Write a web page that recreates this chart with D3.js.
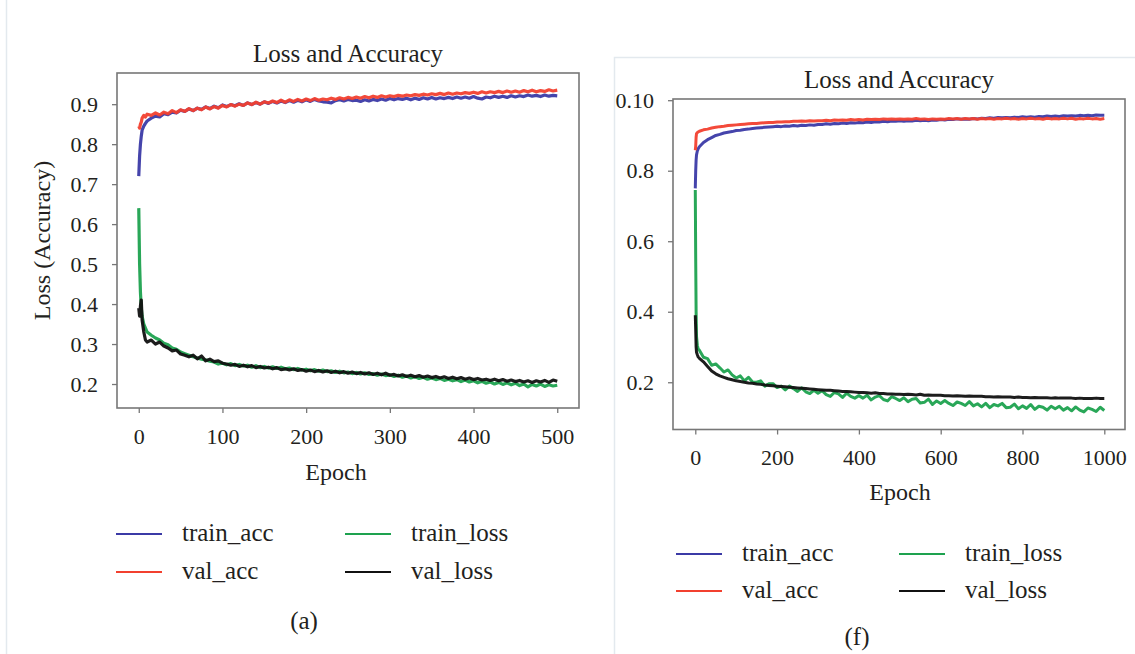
<!DOCTYPE html>
<html><head><meta charset="utf-8">
<script src="https://cdn.jsdelivr.net/npm/d3@7"></script>
<style>
body{margin:0;background:#fff}
svg{display:block}
text{font-family:"Liberation Serif","DejaVu Serif",serif;fill:#231f20}
</style>
</head><body>
<svg id="c" width="1135" height="654"></svg>
<script>
// ---------- DATA ----------
const seriesNames = ["train_acc","val_acc","train_loss","val_loss"];
const seriesColors = ["#3b3aa6","#f2402f","#1ea24f","#111111"];
const chartTitle = "Loss and Accuracy";

// Panel (a)
const epochsA = [0,1,2,3,4,6,8,
 10,15,20,25,30,35,40,45,50,55,60,65,70,75,80,85,90,95,100,105,110,115,120,125,130,135,140,145,150,155,
 160,165,170,175,180,185,190,195,200,205,210,215,220,225,230,235,240,245,250,255,260,265,270,275,280,285,
 290,295,300,305,310,315,320,325,330,335,340,345,350,355,360,365,370,375,380,385,390,395,400,405,410,415,
 420,425,430,435,440,445,450,455,460,465,470,475,480,485,490,495,500];
const trainAccA = [0.72,0.77,0.80,0.82,0.835,0.845,0.852,
 0.858,0.865,0.87,0.868,0.876,0.874,0.88,0.878,0.885,0.882,
 0.888,0.884,0.89,0.887,0.893,0.889,0.895,0.891,0.898,0.894,
 0.899,0.896,0.901,0.897,0.903,0.899,0.904,0.9,0.906,0.902,
 0.907,0.903,0.908,0.904,0.909,0.905,0.91,0.906,0.911,0.907,
 0.912,0.908,0.906,0.905,0.903,0.909,0.911,0.908,0.912,0.909,
 0.91,0.907,0.911,0.908,0.912,0.909,0.913,0.91,0.914,0.911,
 0.914,0.912,0.915,0.911,0.915,0.912,0.916,0.913,0.917,0.913,
 0.916,0.914,0.917,0.914,0.918,0.915,0.918,0.915,0.919,0.915,
 0.913,0.918,0.916,0.92,0.917,0.92,0.917,0.921,0.918,0.921,
 0.919,0.923,0.92,0.922,0.919,0.923,0.92,0.922,0.921];
const valAccA = [0.845,0.84,0.85,0.855,0.865,0.872,0.868,
 0.875,0.872,0.878,0.873,0.88,0.876,0.884,0.879,0.886,0.882,
 0.889,0.884,0.89,0.886,0.893,0.888,0.894,0.89,0.897,0.893,
 0.899,0.895,0.9,0.897,0.903,0.899,0.905,0.9,0.906,0.903,
 0.908,0.904,0.91,0.905,0.911,0.907,0.912,0.908,0.913,0.909,
 0.914,0.91,0.913,0.911,0.915,0.912,0.916,0.913,0.917,0.914,
 0.918,0.915,0.919,0.916,0.92,0.917,0.921,0.918,0.921,0.919,
 0.922,0.92,0.923,0.921,0.924,0.922,0.925,0.923,0.926,0.924,
 0.927,0.924,0.928,0.925,0.928,0.926,0.929,0.927,0.93,0.927,
 0.931,0.928,0.931,0.929,0.932,0.929,0.933,0.93,0.933,0.93,
 0.934,0.931,0.935,0.931,0.934,0.932,0.936,0.933,0.935];
const trainLossA = [0.64,0.5,0.43,0.39,0.37,0.35,0.34,
 0.33,0.322,0.315,0.31,0.302,0.298,0.29,0.287,0.28,0.276,
 0.272,0.268,0.265,0.262,0.26,0.257,0.255,0.25,0.252,0.248,
 0.251,0.246,0.249,0.245,0.247,0.242,0.246,0.241,0.244,0.24,
 0.243,0.239,0.242,0.238,0.24,0.236,0.239,0.235,0.237,0.233,
 0.236,0.232,0.235,0.231,0.233,0.229,0.232,0.228,0.23,0.226,
 0.229,0.225,0.228,0.224,0.226,0.222,0.225,0.221,0.223,0.219,
 0.222,0.217,0.22,0.215,0.218,0.214,0.217,0.212,0.215,0.211,
 0.214,0.209,0.212,0.208,0.211,0.206,0.21,0.205,0.208,0.203,
 0.207,0.202,0.205,0.2,0.204,0.199,0.203,0.198,0.202,0.196,
 0.2,0.193,0.199,0.195,0.2,0.194,0.198,0.195,0.197];
const valLossA = [0.39,0.37,0.395,0.41,0.36,0.33,0.31,
 0.305,0.31,0.3,0.305,0.295,0.29,0.283,0.285,0.275,0.272,
 0.268,0.272,0.263,0.27,0.258,0.262,0.256,0.258,0.252,0.25,
 0.247,0.249,0.244,0.247,0.243,0.246,0.241,0.244,0.24,0.242,
 0.238,0.241,0.236,0.238,0.235,0.238,0.234,0.236,0.232,0.235,
 0.231,0.234,0.23,0.233,0.229,0.232,0.228,0.231,0.227,0.23,
 0.226,0.229,0.225,0.228,0.224,0.227,0.223,0.227,0.222,0.224,
 0.22,0.223,0.219,0.222,0.218,0.221,0.217,0.22,0.216,0.219,
 0.215,0.218,0.214,0.217,0.213,0.216,0.212,0.215,0.211,0.214,
 0.21,0.212,0.209,0.212,0.208,0.211,0.207,0.21,0.206,0.209,
 0.205,0.208,0.204,0.208,0.205,0.209,0.204,0.21,0.207];
const xTicksA = [0,100,200,300,400,500];
const yTicksA = [0.2,0.3,0.4,0.5,0.6,0.7,0.8,0.9];
const yTickLabelsA = ["0.2","0.3","0.4","0.5","0.6","0.7","0.8","0.9"];

// Panel (f)
const epochsF = [0,1,2,3,5,7,
 10,20,30,40,50,60,70,80,90,100,110,120,130,140,150,160,170,180,190,200,
 210,220,230,240,250,260,270,280,290,300,310,320,330,340,350,360,370,380,390,400,
 410,420,430,440,450,460,470,480,490,500,510,520,530,540,550,560,570,580,590,600,
 610,620,630,640,650,660,670,680,690,700,710,720,730,740,750,760,770,780,790,800,
 810,820,830,840,850,860,870,880,890,900,910,920,930,940,950,960,970,980,990,1000];
const trainAccF = [0.75,0.8,0.83,0.845,0.856,0.862,
 0.868,0.88,0.888,0.894,0.9,0.903,0.907,0.909,0.911,0.914,
 0.915,0.917,0.918,0.92,0.921,0.922,0.923,0.924,0.925,0.926,
 0.925,0.927,0.926,0.928,0.927,0.929,0.928,0.93,0.929,0.931,
 0.931,0.933,0.932,0.934,0.933,0.935,0.934,0.936,0.935,0.937,
 0.936,0.938,0.937,0.939,0.938,0.94,0.939,0.941,0.94,0.942,
 0.94,0.942,0.941,0.943,0.942,0.943,0.942,0.944,0.943,0.945,
 0.944,0.946,0.945,0.947,0.946,0.947,0.946,0.948,0.947,0.949,
 0.948,0.95,0.949,0.951,0.95,0.951,0.95,0.952,0.951,0.953,
 0.952,0.953,0.952,0.954,0.953,0.955,0.954,0.955,0.954,0.956,
 0.955,0.956,0.955,0.957,0.956,0.957,0.956,0.958,0.957,0.957];
const valAccF = [0.858,0.87,0.895,0.905,0.908,0.91,
 0.912,0.916,0.918,0.921,0.923,0.925,0.926,0.928,0.929,0.93,
 0.931,0.932,0.933,0.934,0.934,0.935,0.936,0.937,0.937,0.938,
 0.938,0.939,0.939,0.94,0.94,0.941,0.94,0.942,0.941,0.942,
 0.942,0.943,0.942,0.944,0.943,0.944,0.943,0.945,0.944,0.945,
 0.944,0.946,0.945,0.946,0.945,0.947,0.946,0.947,0.946,0.947,
 0.946,0.947,0.946,0.948,0.946,0.947,0.945,0.947,0.946,0.947,
 0.946,0.948,0.947,0.948,0.946,0.948,0.947,0.948,0.946,0.948,
 0.947,0.948,0.946,0.948,0.947,0.949,0.947,0.948,0.946,0.948,
 0.947,0.949,0.947,0.948,0.946,0.949,0.947,0.948,0.947,0.949,
 0.947,0.949,0.946,0.948,0.947,0.949,0.947,0.948,0.946,0.948];
const trainLossF = [0.745,0.55,0.4,0.33,0.305,0.295,
 0.291,0.271,0.267,0.248,0.252,0.241,0.229,0.235,0.221,0.212,
 0.218,0.204,0.214,0.201,0.2,0.204,0.189,0.196,0.196,0.185,
 0.189,0.178,0.189,0.182,0.174,0.184,0.173,0.168,0.177,0.169,
 0.176,0.165,0.16,0.171,0.167,0.157,0.169,0.16,0.155,0.162,
 0.155,0.163,0.15,0.158,0.162,0.151,0.147,0.159,0.154,0.148,
 0.156,0.145,0.152,0.154,0.141,0.143,0.152,0.137,0.147,0.14,
 0.148,0.14,0.134,0.144,0.14,0.134,0.145,0.133,0.139,0.13,
 0.14,0.128,0.137,0.133,0.14,0.128,0.129,0.138,0.125,0.133,
 0.126,0.137,0.123,0.132,0.129,0.121,0.132,0.125,0.132,0.121,
 0.128,0.119,0.13,0.121,0.116,0.127,0.123,0.117,0.129,0.12];
const valLossF = [0.39,0.35,0.3,0.285,0.278,0.272,
 0.268,0.258,0.245,0.232,0.224,0.218,0.214,0.21,0.207,0.204,
 0.202,0.2,0.198,0.197,0.195,0.194,0.192,0.191,0.19,0.189,
 0.188,0.187,0.186,0.185,0.184,0.183,0.182,0.181,0.18,0.179,
 0.178,0.177,0.177,0.176,0.175,0.174,0.174,0.173,0.172,0.171,
 0.171,0.17,0.169,0.17,0.168,0.168,0.167,0.167,0.166,0.166,
 0.165,0.166,0.165,0.164,0.166,0.163,0.164,0.163,0.163,0.163,
 0.162,0.162,0.161,0.162,0.161,0.16,0.161,0.16,0.16,0.16,
 0.159,0.159,0.158,0.159,0.158,0.158,0.158,0.157,0.158,0.157,
 0.157,0.156,0.157,0.156,0.156,0.156,0.155,0.156,0.155,0.155,
 0.155,0.155,0.154,0.155,0.154,0.154,0.154,0.155,0.154,0.154];
const xTicksF = [0,200,400,600,800,1000];
const yTicksF = [0.2,0.4,0.6,0.8,1.0];
const yTickLabelsF = ["0.2","0.4","0.6","0.8","0.10"];

// ---------- DRAW ----------
const svg = d3.select("#c");
svg.append("line").attr("x1",6.5).attr("x2",6.5).attr("y1",0).attr("y2",654)
  .attr("stroke","#e3e9ee").attr("stroke-width",1.5);
svg.append("rect").attr("x",614.5).attr("y",57.5).attr("width",540).attr("height",620)
  .attr("fill","none").attr("stroke","#e3e9ee").attr("stroke-width",1.5);

function panel(cfg){
  const x = d3.scaleLinear().domain(cfg.xDomain).range([cfg.left,cfg.right]);
  const y = d3.scaleLinear().domain(cfg.yDomain).range([cfg.bottom,cfg.top]);
  const g = svg.append("g");

  const xa = g.append("g").attr("transform",`translate(0,${cfg.bottom})`)
    .call(d3.axisBottom(x).tickValues(cfg.xTicks).tickFormat(d3.format("d")).tickSize(5).tickPadding(15));
  const ya = g.append("g").attr("transform",`translate(${cfg.left},0)`)
    .call(d3.axisLeft(y).tickValues(cfg.yTicks).tickFormat((d,i)=>cfg.yLabels[i]).tickSize(5).tickPadding(14));
  [xa,ya].forEach(a=>{
    a.select(".domain").remove();
    a.selectAll(".tick line").attr("stroke","#777").attr("stroke-width",1.3);
    a.selectAll(".tick text").style("font-family",'"Liberation Serif",serif').style("font-size","22px").attr("fill","#231f20");
  });

  const clipId = "clip"+cfg.id;
  g.append("clipPath").attr("id",clipId).append("rect")
    .attr("x",cfg.left).attr("y",cfg.top).attr("width",cfg.right-cfg.left).attr("height",cfg.bottom-cfg.top);
  const line = d3.line().x((d,i)=>x(cfg.epochs[i])).y(d=>y(d));
  const lg = g.append("g").attr("clip-path",`url(#${clipId})`);
  cfg.series.forEach((s,k)=>{
    lg.append("path").datum(s).attr("d",line).attr("fill","none")
      .attr("stroke",seriesColors[k]).attr("stroke-width",cfg.lw)
      .attr("stroke-linejoin","round").attr("stroke-opacity",0.95);
  });

  g.append("rect").attr("x",cfg.left).attr("y",cfg.top)
    .attr("width",cfg.right-cfg.left).attr("height",cfg.bottom-cfg.top)
    .attr("fill","none").attr("stroke","#777").attr("stroke-width",1.6);

  g.append("text").attr("x",(cfg.left+cfg.right)/2).attr("y",cfg.titleY)
    .attr("text-anchor","middle").style("font-size","25px").text(chartTitle);
  g.append("text").attr("x",cfg.xLabelX).attr("y",cfg.xLabelY)
    .attr("text-anchor","middle").style("font-size","24px").text("Epoch");
  if(cfg.yLabel){
    g.append("text").attr("transform",`translate(${cfg.yLabelX},${(cfg.top+cfg.bottom)/2}) rotate(-90)`)
      .attr("text-anchor","middle").style("font-size","24px").text(cfg.yLabel);
  }
  // legend
  const leg = g.append("g");
  seriesNames.forEach((n,k)=>{
    const col = k<2 ? 0 : 1, row = k%2;
    const lx = cfg.legX[col], ly = cfg.legY[row];
    leg.append("line").attr("x1",lx).attr("x2",lx+46).attr("y1",ly).attr("y2",ly)
      .attr("stroke",seriesColors[k]).attr("stroke-width",2);
    leg.append("text").attr("x",lx+66).attr("y",ly+7).style("font-size","25px").text(n);
  });
  g.append("text").attr("x",cfg.capX).attr("y",cfg.capY).attr("text-anchor","middle")
    .style("font-size","25px").text(cfg.caption);
}

panel({id:"a", left:117, right:579, top:73, bottom:408,
  xDomain:[-26,526], yDomain:[0.14,0.978],
  xTicks:xTicksA, yTicks:yTicksA, yLabels:yTickLabelsA,
  epochs:epochsA, series:[trainAccA,valAccA,trainLossA,valLossA], lw:3.2,
  titleY:62, xLabelX:336, xLabelY:480, yLabel:"Loss (Accuracy)", yLabelX:50,
  legX:[116,345], legY:[534,572], caption:"(a)", capX:304, capY:629});

panel({id:"f", left:673, right:1125, top:99, bottom:429.5,
  xDomain:[-54.5,1050.6], yDomain:[0.066,1.0034],
  xTicks:xTicksF, yTicks:yTicksF, yLabels:yTickLabelsF,
  epochs:epochsF, series:[trainAccF,valAccF,trainLossF,valLossF], lw:3,
  titleY:88, xLabelX:900, xLabelY:500, yLabel:null,
  legX:[676,899], legY:[554,591], caption:"(f)", capX:857, capY:645});
</script>
</body></html>
